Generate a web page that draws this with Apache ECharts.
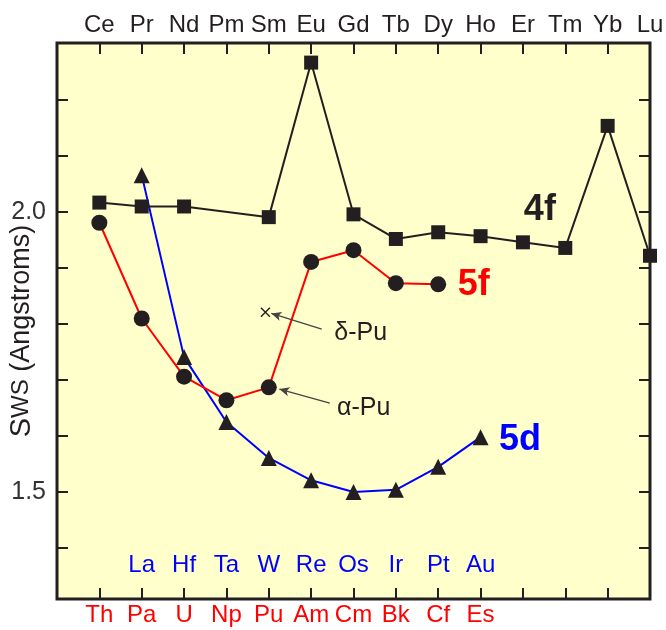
<!DOCTYPE html>
<html>
<head>
<meta charset="utf-8">
<script src="https://cdn.jsdelivr.net/npm/echarts@6/dist/echarts.min.js"></script>
<style>
html,body{margin:0;padding:0;background:#fff;}
#chart{width:666px;height:630px;}
</style>
</head>
<body>
<div id="chart"></div>
<script>
// Category labels (positions 0..13 on the shared x scale)
const lanthanides = ['Ce','Pr','Nd','Pm','Sm','Eu','Gd','Tb','Dy','Ho','Er','Tm','Yb','Lu'];
const actinides = ['Th','Pa','U','Np','Pu','Am','Cm','Bk','Cf','Es'];
const metals5d = ['La','Hf','Ta','W','Re','Os','Ir','Pt','Au'];
const metals5dStart = 1; // La sits at the Pa position

// Series values (Wigner-Seitz radius, Angstroms)
const sws4f = [2.017, 2.010, 2.010, null, 1.991, 2.267, 1.996, 1.952, 1.964, 1.957, 1.946, 1.936, 2.154, 1.922];
const sws5f = [1.981, 1.810, 1.706, 1.664, 1.687, 1.911, 1.932, 1.873, 1.871];
const sws5d = [2.066, 1.741, 1.625, 1.561, 1.521, 1.500, 1.504, 1.545, 1.598];
const deltaPu = [[3.92, 1.821]];

// Axis ticks
const yTickValues = [1.4, 1.5, 1.6, 1.7, 1.8, 1.9, 2.0, 2.1, 2.2];
const yLabelValues = [1.5, 2.0];
const xTickValues = [0,1,2,3,4,5,6,7,8,9,10,11,12];

// Text annotations [x, y, text, colour]
const seriesLabels = [[10.4, 2.004, '4f', '#231f20'], [8.84, 1.870, '5f', '#ff0000'], [9.93, 1.593, '5d', '#0000ff']];
const puLabels = [[6.17, 1.784, 'δ-Pu'], [6.24, 1.650, 'α-Pu']];
const puArrows = [[[5.25, 1.791], [4.06, 1.819]], [[5.44, 1.659], [4.25, 1.684]]];

const FONT = 'Liberation Sans, Arial, sans-serif';
const INK = '#231f20';
const X_MIN = -1, X_MAX = 13, Y_MIN = 1.309, Y_MAX = 2.302;

const chart = echarts.init(document.getElementById('chart'), null, {renderer: 'canvas'});

const data4f = sws4f.map((v, i) => [i, v]).filter(d => d[1] !== null);
const data5f = sws5f.map((v, i) => [i, v]);
const data5d = sws5d.map((v, i) => [i + metals5dStart, v]);

const tickStyle = () => ({show: true, inside: true, length: 11, lineStyle: {color: INK, width: 2}});
const noLine = () => ({show: false, onZero: false});

const option = {
  backgroundColor: '#ffffff',
  animation: false,
  grid: {
    left: 57, top: 43, right: 16, bottom: 31,
    outerBoundsMode: 'none', containLabel: false,
    show: true, backgroundColor: '#FFFFCC', borderColor: INK, borderWidth: 3
  },
  xAxis: [
    {
      type: 'value', position: 'bottom', min: X_MIN, max: X_MAX,
      axisLine: noLine(), splitLine: {show: false},
      axisTick: Object.assign({customValues: xTickValues}, tickStyle()),
      axisLabel: {
        customValues: actinides.map((_, i) => i),
        formatter: v => actinides[Math.round(v)] || '',
        color: '#ff0000', fontSize: 24, fontFamily: FONT, margin: 4
      }
    },
    {
      type: 'value', position: 'top', min: X_MIN, max: X_MAX,
      axisLine: noLine(), splitLine: {show: false},
      axisTick: Object.assign({customValues: xTickValues}, tickStyle()),
      axisLabel: {
        customValues: lanthanides.map((_, i) => i),
        formatter: v => lanthanides[Math.round(v)] || '',
        color: INK, fontSize: 24, fontFamily: FONT, margin: 6
      }
    },
    {
      type: 'value', position: 'bottom', min: X_MIN, max: X_MAX,
      axisLine: noLine(), splitLine: {show: false}, axisTick: {show: false},
      axisLabel: {
        inside: true,
        customValues: metals5d.map((_, i) => i + metals5dStart),
        formatter: v => metals5d[Math.round(v) - metals5dStart] || '',
        color: '#0000ff', fontSize: 24, fontFamily: FONT, margin: 22
      }
    }
  ],
  yAxis: [
    {
      type: 'value', position: 'left', min: Y_MIN, max: Y_MAX,
      axisLine: noLine(), splitLine: {show: false},
      axisTick: Object.assign({customValues: yTickValues}, tickStyle()),
      axisLabel: {
        customValues: yLabelValues,
        formatter: v => v.toFixed(1),
        color: '#333333', fontSize: 25, fontFamily: FONT, margin: 11
      },
      name: '{s|S}{w|WS}{n| (Angstroms)}',
      nameLocation: 'middle', nameRotate: 90, nameGap: 21, nameMoveOverlap: false,
      nameTextStyle: {
        fontFamily: FONT, color: INK, padding: [0, 20, 0, 0],
        rich: {
          s: {fontSize: 29, fontFamily: FONT, color: INK},
          w: {fontSize: 24, fontFamily: FONT, color: INK},
          n: {fontSize: 27, fontFamily: FONT, color: INK}
        }
      }
    },
    {
      type: 'value', position: 'right', min: Y_MIN, max: Y_MAX,
      axisLine: noLine(), splitLine: {show: false},
      axisTick: Object.assign({customValues: yTickValues}, tickStyle()),
      axisLabel: {show: false}
    }
  ],
  series: [
    {
      name: '5d', type: 'line', data: data5d, xAxisIndex: 0, yAxisIndex: 0,
      symbol: 'triangle', symbolSize: 16,
      lineStyle: {color: '#0000ff', width: 2},
      itemStyle: {color: INK}, z: 3
    },
    {
      name: '5f', type: 'line', data: data5f, xAxisIndex: 0, yAxisIndex: 0,
      symbol: 'circle', symbolSize: 16,
      lineStyle: {color: '#ff0000', width: 2},
      itemStyle: {color: INK}, z: 4
    },
    {
      name: '4f', type: 'line', data: data4f, xAxisIndex: 0, yAxisIndex: 0,
      symbol: 'rect', symbolSize: 14,
      lineStyle: {color: INK, width: 2},
      itemStyle: {color: INK}, z: 5
    },
    {
      name: 'delta-Pu', type: 'scatter', data: deltaPu, xAxisIndex: 0, yAxisIndex: 0,
      symbol: 'path://M0,1L1,0L5,4L9,0L10,1L6,5L10,9L9,10L5,6L1,10L0,9L4,5Z',
      symbolSize: 10, itemStyle: {color: INK, opacity: 1}, z: 6,
      markLine: {
        silent: true, symbol: ['none', 'arrow'], symbolSize: [7, 10],
        lineStyle: {color: '#444444', width: 1.3, type: 'solid', opacity: 1},
        label: {show: false},
        data: puArrows.map(a => [{coord: a[0]}, {coord: a[1]}])
      }
    },
    {
      name: 'series-labels', type: 'scatter', xAxisIndex: 0, yAxisIndex: 0,
      symbolSize: 0, silent: true, z: 7, itemStyle: {opacity: 1},
      data: seriesLabels.map(d => ({
        value: [d[0], d[1]],
        label: {show: true, position: 'inside', formatter: d[2], color: d[3],
                fontSize: 36, fontWeight: 'bold', fontFamily: FONT}
      }))
    },
    {
      name: 'pu-labels', type: 'scatter', xAxisIndex: 0, yAxisIndex: 0,
      symbolSize: 0, silent: true, z: 7, itemStyle: {opacity: 1},
      data: puLabels.map(d => ({
        value: [d[0], d[1]],
        label: {show: true, position: 'inside', formatter: d[2], color: INK,
                fontSize: 25, fontFamily: FONT}
      }))
    }
  ]
};

chart.setOption(option);
</script>
</body>
</html>
